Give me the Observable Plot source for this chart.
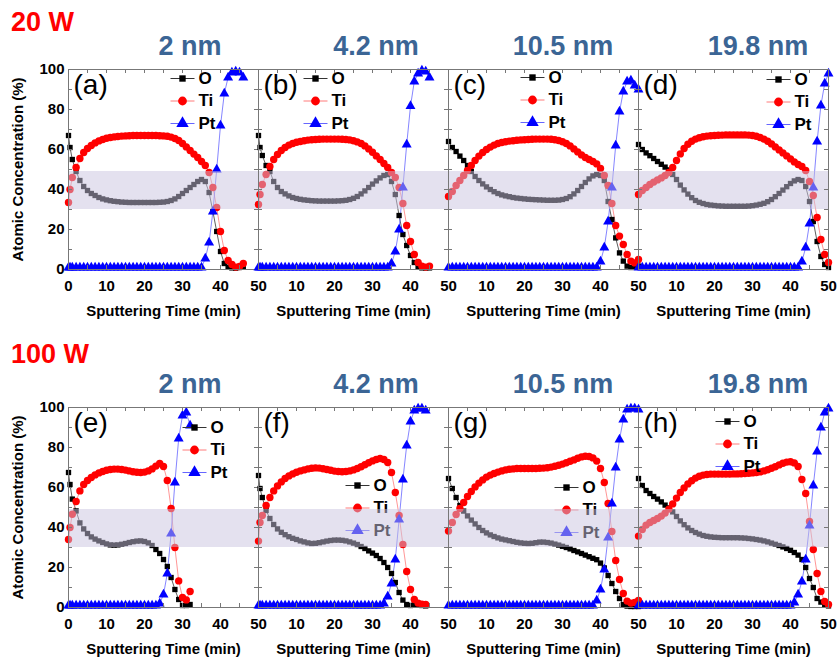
<!DOCTYPE html>
<html><head><meta charset="utf-8">
<script src="https://cdn.jsdelivr.net/npm/d3@7"></script>
<script src="https://cdn.jsdelivr.net/npm/@observablehq/plot@0.6"></script>
<style>
body{margin:0;background:#fff;}
#fig{position:relative;width:840px;height:661px;overflow:hidden;font-family:"Liberation Sans",Arial,Helvetica,sans-serif;}
.ttl{position:absolute;white-space:nowrap;line-height:1;font-weight:bold;}
.power{color:#ff0000;font-size:27px;transform:translateY(-50%);}
.thick{color:#3b6595;font-size:27px;transform:translate(-50%,-50%);}
</style></head><body><div id="fig"></div>
<script>
// ---------- labels ----------
const powers = ["20 W", "100 W"];
const thicknesses = ["2 nm", "4.2 nm", "10.5 nm", "19.8 nm"];
const letters = ["(a)", "(b)", "(c)", "(d)", "(e)", "(f)", "(g)", "(h)"];
const elements = ["O", "Ti", "Pt"];
const xTicksFirst = [0, 10, 20, 30, 40, 50];
const xTicksOther = [10, 20, 30, 40, 50];
const yTicks = [0, 20, 40, 60, 80, 100];
const xMinor = [5, 10, 15, 20, 25, 30, 35, 40, 45];
const yMinor = [10, 20, 30, 40, 50, 60, 70, 80, 90];
const bandRange = [30, 49];
const xTitle = "Sputtering Time (min)";
const yTitle = "Atomic Concentration (%)";

// ---------- (a) 20 W, 2 nm ----------
const t20_2 = [0,0.4,1,2,3,4,5,6,7,8,9,10,11,12,13,14,15,16,17,18,19,20,21,22,23,24,25,26,27,28,29,30,31,32,33,34,35,36,37,38,39,40,41,42,43,44,45,46];
const O20_2 = [67,61,55,49,44.5,41.5,39.5,38,37,36,35.3,34.8,34.4,34.1,33.9,33.7,33.6,33.5,33.5,33.5,33.5,33.5,33.5,33.5,33.5,33.6,33.7,34,34.5,35.3,36.5,38,39.5,41,42.5,44,45,44,38.5,29,19,9,3,1.2,0.8,0.7,1,1.3];
const Ti20_2 = [33.5,40,46,51,55.5,58.5,60.5,62,63.3,64.3,65,65.6,66,66.3,66.5,66.7,66.8,66.9,67,67,67,67,67,67,67,66.9,66.8,66.6,66.2,65.5,64.5,63,61.3,59.5,57.7,56,54,52,48.5,41,31,19,9.5,4.5,2.5,1.2,1.5,3];
const Pt20_2 = [1,1,1,1,1,1,1,1,1,1,1,1,1,1,1,1,1,1,1,1,1,1,1,1,1,1,1,1,1,1,1,1,1,1,1,1,1,5.5,13.5,29,50,72,88,96,98.5,99,98.5,96];

// ---------- (b) 20 W, 4.2 nm ----------
const t20_4 = [0,0.4,1,2,3,4,5,6,7,8,9,10,11,12,13,14,15,16,17,18,19,20,21,22,23,24,25,26,27,28,29,30,31,32,33,34,35,36,37,38,39,40,41,42,43,44,45];
const O20_4 = [67,61,57,52,49,44,41,39,37.8,36.8,36,35.5,35.1,34.8,34.6,34.4,34.3,34.2,34.2,34.2,34.2,34.2,34.3,34.4,34.6,35,35.6,36.5,37.8,39.3,41,42.7,44.3,45.8,47,47.5,44,37.5,27,17.5,12,7,3.5,1.3,0.8,0.8,0.8];
const Ti20_4 = [32.5,37.5,42.5,47.5,51.5,55,57.5,59.5,61,62.2,63,63.6,64,64.4,64.7,64.9,65,65.1,65.2,65.2,65.2,65.2,65.2,65.1,65,64.8,64.4,63.8,63,61.8,60.3,58.6,56.8,55,53,51,48.5,46,41,33,22,14,7.5,3.5,1.7,1.2,1.7];
const Pt20_4 = [1,1,1,1,1,1,1,1,1,1,1,1,1,1,1,1,1,1,1,1,1,1,1,1,1,1,1,1,1,1,1,1,1,1,1,1,3,9,20,41,62.5,81.7,94,98,99.5,99,96];

// ---------- (c) 20 W, 10.5 nm ----------
const t20_10 = [0,1,2,3,4,5,6,7,8,9,10,11,12,13,14,15,16,17,18,19,20,21,22,23,24,25,26,27,28,29,30,31,32,33,34,35,36,37,38,39,40,41,42,43,44,45,46,47,48,49,50];
const O20_10 = [64,61,59,56.7,54.5,52,49,46.5,44.5,42.8,41.3,40,38.9,38,37.3,36.8,36.4,36,35.7,35.5,35.3,35.1,35,34.9,34.8,34.7,34.6,34.6,34.6,34.7,35,35.5,36.4,37.8,39.5,41.5,43.5,45.3,46.8,47.5,47,44.5,34,25,15.8,8.3,4.2,1.7,1,1.2,1.7];
const Ti20_10 = [36.5,39,42,44.5,47,49.5,52,54.5,56.7,58.5,60,61.2,62.2,63,63.5,63.9,64.2,64.4,64.6,64.8,64.9,65,65.1,65.2,65.2,65.2,65.2,65.1,64.9,64.5,63.9,63,61.8,60.3,58.8,57.3,56,55,54,52.8,50.5,47,42,33,22,16.7,12.5,7.5,4.2,3.3,5];
const Pt20_10 = [1,1,1,1,1,1,1,1,1,1,1,1,1,1,1,1,1,1,1,1,1,1,1,1,1,1,1,1,1,1,1,1,1,1,1,1,1,1,1,1,4,11,24,41,62,79,89,94,94.5,92,90];

// ---------- (d) 20 W, 19.8 nm ----------
const t20_19 = [0,1,2,3,4,5,6,7,8,9,10,11,12,13,14,15,16,17,18,19,20,21,22,23,24,25,26,27,28,29,30,31,32,33,34,35,36,37,38,39,40,41,42,43,44,45,46,47,48,49,50];
const O20_19 = [62.5,60,58.3,56.9,55.5,54,52.6,51.2,49.8,47.5,45,42.2,39.8,37.7,35.9,34.5,33.6,33,32.5,32.2,32,31.8,31.7,31.6,31.6,31.6,31.6,31.6,31.6,31.7,31.9,32.2,32.6,33.1,33.9,35,36.4,38,39.7,41.4,43,44.3,45,44.5,41.5,34,24,14,6.5,2.5,1];
const Ti20_19 = [37.5,39.5,41,42.5,43.7,44.8,45.8,47,48.5,51,54.5,57.8,60.5,62.6,64.1,65.2,65.9,66.4,66.7,66.9,67,67.1,67.2,67.3,67.3,67.3,67.3,67.3,67.3,67.2,67,66.6,66,65.2,64.1,62.8,61.3,59.8,58.3,56.8,55.3,53.8,52.5,51.5,49.5,44,37,26,15,7.5,3.5];
const Pt20_19 = [1,1,1,1,1,1,1,1,1,1,1,1,1,1,1,1,1,1,1,1,1,1,1,1,1,1,1,1,1,1,1,1,1,1,1,1,1,1,1,1,1,1,1,4,11,23,41,64,82,93,98];

// ---------- (e) 100 W, 2 nm ----------
const t100_2 = [0,0.4,1,2,3,4,5,6,7,8,9,10,11,12,13,14,15,16,17,18,19,20,21,22,23,24,25,26,27,28,29,30,31,32];
const O100_2 = [67.5,61.5,54.2,48.3,42.3,39.3,37,35.3,34.2,33.3,32.5,31.8,31.3,31.2,31.3,31.6,32,32.5,32.9,33.2,33.3,33,32.3,31,29,27,24,20.5,15,9,4,1,1,1.5];
const Ti100_2 = [34,40,46.6,53,58.3,61.5,63.5,65,66.3,67.3,68,68.6,69,69.2,69.2,69,68.7,68.3,67.9,67.6,67.5,67.7,68.3,69.3,70.7,72,70.5,63.5,49.5,30,13.3,5,3.8,8];
const Pt100_2 = [1,1,1,1,1,1,1,1,1,1,1,1,1,1,1,1,1,1,1,1,1,1,1,1,1,2,6.5,17,37,62.5,84.5,96,97.5,91];

// ---------- (f) 100 W, 4.2 nm ----------
const t100_4 = [0,0.4,1,2,3,4,5,6,7,8,9,10,11,12,13,14,15,16,17,18,19,20,21,22,23,24,25,26,27,28,29,30,31,32,33,34,35,36,37,38,39,40,41,42,43,44];
const O100_4 = [66,59.5,55,48.5,44.5,41.5,39.3,37.6,36.4,35.4,34.6,34,33.3,32.8,32.3,32,32.1,32.4,32.8,33.2,33.5,33.7,33.7,33.6,33.3,32.8,32.2,31.5,30.5,29.5,28.3,27.2,26,24.5,22.5,20,17,12.5,7.5,3.7,1.5,1,1.5,1.2,1,0.8];
const Ti100_4 = [33.2,42.5,46,51,55,58.3,60.8,62.8,64.5,65.8,66.8,67.6,68.3,68.8,69.3,69.6,69.8,69.7,69.4,69,68.6,68.2,68,67.9,68,68.3,68.8,69.5,70.4,71.4,72.4,73.3,74,74.5,74,72.5,67.5,57.5,46,31.5,18,9,4,2.2,1.7,1.5];
const Pt100_4 = [1,1,1,1,1,1,1,1,1,1,1,1,1,1,1,1,1,1,1,1,1,1,1,1,1,1,1,1,1,1,1,1,1,1,2,5.5,12,24,44,64,81,93,98.5,99.5,99.5,98.5];

// ---------- (g) 100 W, 10.5 nm ----------
const t100_10 = [0,1,2,3,4,5,6,7,8,9,10,11,12,13,14,15,16,17,18,19,20,21,22,23,24,25,26,27,28,29,30,31,32,33,34,35,36,37,38,39,40,41,42,43,44,45,46,47,48,49,50];
const O100_10 = [64.5,59.5,55,51,48.2,45.8,43.7,41.8,40,38.5,37.3,36.3,35.5,34.8,34.2,33.8,33.4,33,32.6,32.3,32.1,32,32.1,32.4,32.7,32.7,32.5,32.2,31.7,31.2,30.6,30,29.3,28.5,27.8,27,26.2,25.4,24.6,23.9,22.2,19.8,16,12,8,4.5,1.5,0.7,0.5,0.5,0.5];
const Ti100_10 = [38.2,42.5,46.5,49.5,52.5,55.5,58,60.3,62.2,63.8,65.2,66.2,67,67.7,68.3,68.8,69.1,69.3,69.5,69.5,69.5,69.5,69.5,69.5,69.6,69.7,69.9,70.2,70.6,71.1,71.7,72.4,73.1,73.8,74.6,75.3,75.6,75.5,74.8,73.2,69.5,62.5,52,38,23.5,14,7,3.2,2.2,2.5,3.5];
const Pt100_10 = [1,1,1,1,1,1,1,1,1,1,1,1,1,1,1,1,1,1,1,1,1,1,1,1,1,1,1,1,1,1,1,1,1,1,1,1,1,1,1,3.5,9,19,35,52,70,84,94,99,99.5,99.5,99];

// ---------- (h) 100 W, 19.8 nm ----------
const t100_19 = [0,1,2,3,4,5,6,7,8,9,10,11,12,13,14,15,16,17,18,19,20,21,22,23,24,25,26,27,28,29,30,31,32,33,34,35,36,37,38,39,40,41,42,43,44,45,46,47,48,49,50];
const O100_19 = [64.5,61,58.5,57,55.5,54.2,52.8,51.2,49.8,47.8,45.5,43.3,41.4,39.8,38.5,37.5,36.7,36,35.6,35.3,35.1,35,34.9,34.9,34.9,34.9,34.9,34.8,34.7,34.5,34.3,34,33.7,33.3,32.8,32.2,31.6,31,30.3,29.5,28.6,27.5,26.2,24,20,14.5,10,4.5,2.7,1.2,0.8];
const Ti100_19 = [35.7,39,41.2,42.5,43.5,44.5,45.7,47.2,49.2,51.8,54.7,57.5,59.8,61.8,63.4,64.7,65.6,66.2,66.5,66.7,66.7,66.7,66.7,66.7,66.7,66.8,66.8,66.9,67,67.1,67.3,67.5,67.8,68.3,68.9,69.6,70.4,71.3,72.1,72.7,72.9,72.3,70.5,64,57,43,29,17,8,3,1.5];
const Pt100_19 = [1,1,1,1,1,1,1,1,1,1,1,1,1,1,1,1,1,1,1,1,1,1,1,1,1,1,1,1,1,1,1,1,1,1,1,1,1,1,1,1,1,2.5,6.5,13,24,41,61,78,90,97.5,99.5];

// ---------- layout ----------
const panels = [
  {row:0,col:0,t:t20_2,O:O20_2,Ti:Ti20_2,Pt:Pt20_2,leg:[114,9]},
  {row:0,col:1,t:t20_4,O:O20_4,Ti:Ti20_4,Pt:Pt20_4,leg:[57,9]},
  {row:0,col:2,t:t20_10,O:O20_10,Ti:Ti20_10,Pt:Pt20_10,leg:[84,8]},
  {row:0,col:3,t:t20_19,O:O20_19,Ti:Ti20_19,Pt:Pt20_19,leg:[140,10]},
  {row:1,col:0,t:t100_2,O:O100_2,Ti:Ti100_2,Pt:Pt100_2,leg:[126,20]},
  {row:1,col:1,t:t100_4,O:O100_4,Ti:Ti100_4,Pt:Pt100_4,leg:[99,78]},
  {row:1,col:2,t:t100_10,O:O100_10,Ti:Ti100_10,Pt:Pt100_10,leg:[118,80]},
  {row:1,col:3,t:t100_19,O:O100_19,Ti:Ti100_19,Pt:Pt100_19,leg:[89,14]}
];
const frameLeft = [68, 258, 448, 638];
const frameTop = [69, 407];
const W = 190, H = 200;
const styles = {
  O:  {symbol: "square",   r: 3.0, lr: 3.6, fill: "#000000", line: "#333333"},
  Ti: {symbol: "circle",   r: 3.7, lr: 4.4, fill: "#ff0000", line: "#ff7b7b"},
  Pt: {symbol: "triangle", r: 3.7, lr: 4.6, fill: "#0000ff", line: "#6666ff"}
};
const legendLine = {draw(ctx) { ctx.moveTo(-12, 0); ctx.lineTo(12, 0); }};
const fig = document.getElementById("fig");

panels.forEach((p, k) => {
  const rows = p.t.map((t, i) => ({t, O: p.O[i], Ti: p.Ti[i], Pt: p.Pt[i]}));
  const mL = p.col === 0 ? 68 : 14, mR = 14, mT = 12, mB = 56;
  const marks = [];
  for (const e of elements) marks.push(Plot.line(rows, {x: "t", y: e, stroke: styles[e].line, strokeWidth: 0.8}));
  for (const e of elements) marks.push(Plot.dot(rows, {x: "t", y: e, symbol: styles[e].symbol, r: styles[e].r, fill: styles[e].fill}));
  elements.forEach((e, i) => {
    const dx = p.leg[0], dy = p.leg[1] + i * 22.5;
    marks.push(Plot.dot([e], {frameAnchor: "top-left", dx, dy, symbol: legendLine, fill: "none", stroke: styles[e].line, strokeWidth: 1}));
    marks.push(Plot.dot([e], {frameAnchor: "top-left", dx, dy, symbol: styles[e].symbol, r: styles[e].lr, fill: styles[e].fill}));
    marks.push(Plot.text([e], {frameAnchor: "top-left", dx: dx + 16, dy, text: d => d, textAnchor: "start", lineAnchor: "middle", fontSize: 17, fontWeight: "bold", fill: "#000"}));
  });
  marks.push(Plot.text([letters[k]], {frameAnchor: "top-left", dx: 5, dy: 5, lineAnchor: "top", textAnchor: "start", fontSize: 28, fontWeight: "normal", fill: "#000"}));
  marks.push(Plot.barY([bandRange], {y1: d => d[0], y2: d => d[1], fill: "#c9c3e0", fillOpacity: 0.5}));
  marks.push(Plot.tickX(xMinor, {x: d => d, insetTop: H - 4, stroke: "#777"}));
  marks.push(Plot.tickX(xMinor, {x: d => d, insetBottom: H - 4, stroke: "#777"}));
  marks.push(Plot.tickY(yMinor, {y: d => d, insetRight: W - 4, stroke: "#777"}));
  marks.push(Plot.tickY(yMinor, {y: d => d, insetLeft: W - 4, stroke: "#777"}));
  marks.push(Plot.frame({stroke: "#777", strokeWidth: 1}));
  marks.push(Plot.axisX({ticks: p.col === 0 ? xTicksFirst : xTicksOther, tickSize: 0, tickPadding: 11, fontSize: 15, fontWeight: "bold", label: null}));
  if (p.col === 0) {
    marks.push(Plot.axisY({ticks: yTicks, tickSize: 0, tickPadding: 4, fontSize: 15, fontWeight: "bold", label: null}));
    marks.push(Plot.text([yTitle], {frameAnchor: "left", dx: -50, rotate: -90, textAnchor: "middle", lineAnchor: "middle", fontSize: 15, fontWeight: "bold", fill: "#000"}));
  }
  marks.push(Plot.text([xTitle], {frameAnchor: "bottom", dy: 42, textAnchor: "middle", lineAnchor: "middle", fontSize: 15, fontWeight: "bold", fill: "#000"}));
  const svg = Plot.plot({
    width: mL + W + mR, height: mT + H + mB,
    marginLeft: mL, marginRight: mR, marginTop: mT, marginBottom: mB,
    x: {domain: [0, 50]},
    y: p.col === 0 ? {domain: [0, 100]} : {domain: [0, 100], axis: null},
    style: {fontFamily: "'Liberation Sans', Arial, sans-serif", overflow: "visible", background: "transparent", color: "#000"},
    marks
  });
  svg.style.position = "absolute";
  svg.style.left = (frameLeft[p.col] - mL) + "px";
  svg.style.top = (frameTop[p.row] - mT) + "px";
  fig.appendChild(svg);
});

// titles
const powerY = [22, 354];
powers.forEach((txt, r) => {
  const d = document.createElement("div");
  d.className = "ttl power"; d.textContent = txt;
  d.style.left = "11px"; d.style.top = powerY[r] + "px";
  fig.appendChild(d);
});
const thickX = [190, 376, 563, 758], thickY = [46, 384];
thickY.forEach(y => thicknesses.forEach((txt, c) => {
  const d = document.createElement("div");
  d.className = "ttl thick"; d.textContent = txt;
  d.style.left = thickX[c] + "px"; d.style.top = y + "px";
  fig.appendChild(d);
}));
</script></body></html>
